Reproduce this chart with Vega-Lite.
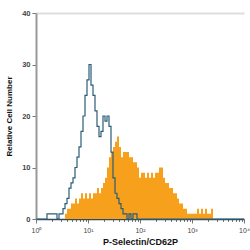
{
  "$schema": "https://vega.github.io/schema/vega-lite/v6.json",
  "width": 208,
  "height": 206,
  "autosize": "none",
  "padding": {"left": 36, "top": 13, "right": 6, "bottom": 31},
  "background": "white",
  "config": {"view": {"stroke": null}, "font": "Liberation Sans"},
  "data": {"values": [
    {"x": 1, "iso": 0, "ps": 0},
    {"x": 1.093, "iso": 0, "ps": 0},
    {"x": 1.194, "iso": 0, "ps": 0},
    {"x": 1.305, "iso": 0, "ps": 0},
    {"x": 1.425, "iso": 0, "ps": 0},
    {"x": 1.557, "iso": 0, "ps": 0},
    {"x": 1.701, "iso": 1, "ps": 0},
    {"x": 1.858, "iso": 1, "ps": 0},
    {"x": 2.031, "iso": 1, "ps": 0},
    {"x": 2.219, "iso": 1, "ps": 0},
    {"x": 2.424, "iso": 1, "ps": 0},
    {"x": 2.649, "iso": 0, "ps": 0},
    {"x": 2.894, "iso": 1, "ps": 0},
    {"x": 3.162, "iso": 1, "ps": 0},
    {"x": 3.455, "iso": 2, "ps": 0},
    {"x": 3.775, "iso": 3, "ps": 1},
    {"x": 4.125, "iso": 4, "ps": 2},
    {"x": 4.507, "iso": 6, "ps": 2},
    {"x": 4.924, "iso": 7, "ps": 3},
    {"x": 5.38, "iso": 8, "ps": 3},
    {"x": 5.878, "iso": 10, "ps": 4},
    {"x": 6.422, "iso": 12, "ps": 3},
    {"x": 7.017, "iso": 14, "ps": 4},
    {"x": 7.667, "iso": 17, "ps": 5},
    {"x": 8.377, "iso": 20, "ps": 4},
    {"x": 9.152, "iso": 24, "ps": 5},
    {"x": 10, "iso": 27, "ps": 4},
    {"x": 10.93, "iso": 30, "ps": 5},
    {"x": 11.94, "iso": 26, "ps": 4},
    {"x": 13.05, "iso": 24, "ps": 5},
    {"x": 14.25, "iso": 21, "ps": 5},
    {"x": 15.57, "iso": 18, "ps": 6},
    {"x": 17.01, "iso": 16, "ps": 5},
    {"x": 18.58, "iso": 17, "ps": 6},
    {"x": 20.31, "iso": 20, "ps": 7},
    {"x": 22.19, "iso": 19, "ps": 8},
    {"x": 24.24, "iso": 20, "ps": 10},
    {"x": 26.49, "iso": 18, "ps": 12},
    {"x": 28.94, "iso": 13, "ps": 13},
    {"x": 31.62, "iso": 8, "ps": 14},
    {"x": 34.55, "iso": 5, "ps": 15},
    {"x": 37.75, "iso": 4, "ps": 16},
    {"x": 41.25, "iso": 3, "ps": 14},
    {"x": 45.07, "iso": 2, "ps": 12},
    {"x": 49.24, "iso": 1, "ps": 13},
    {"x": 53.8, "iso": 1, "ps": 13},
    {"x": 58.78, "iso": 0, "ps": 13},
    {"x": 64.22, "iso": 1, "ps": 12},
    {"x": 70.17, "iso": 0, "ps": 12},
    {"x": 76.67, "iso": 1, "ps": 11},
    {"x": 83.77, "iso": 1, "ps": 11},
    {"x": 91.52, "iso": 0, "ps": 10},
    {"x": 100, "iso": 0, "ps": 8},
    {"x": 109.3, "iso": 0, "ps": 9},
    {"x": 119.4, "iso": 0, "ps": 9},
    {"x": 130.5, "iso": 0, "ps": 8},
    {"x": 142.5, "iso": 0, "ps": 9},
    {"x": 155.7, "iso": 0, "ps": 8},
    {"x": 170.1, "iso": 0, "ps": 9},
    {"x": 185.8, "iso": 0, "ps": 8},
    {"x": 203.1, "iso": 0, "ps": 9},
    {"x": 221.9, "iso": 0, "ps": 9},
    {"x": 242.4, "iso": 0, "ps": 10},
    {"x": 264.9, "iso": 0, "ps": 10},
    {"x": 289.4, "iso": 0, "ps": 8},
    {"x": 316.2, "iso": 0, "ps": 7},
    {"x": 345.5, "iso": 0, "ps": 7},
    {"x": 377.5, "iso": 0, "ps": 6},
    {"x": 412.5, "iso": 0, "ps": 6},
    {"x": 450.7, "iso": 0, "ps": 5},
    {"x": 492.4, "iso": 0, "ps": 5},
    {"x": 538, "iso": 0, "ps": 4},
    {"x": 587.8, "iso": 0, "ps": 3},
    {"x": 642.2, "iso": 0, "ps": 3},
    {"x": 701.7, "iso": 0, "ps": 2},
    {"x": 766.7, "iso": 0, "ps": 2},
    {"x": 837.7, "iso": 0, "ps": 1},
    {"x": 915.2, "iso": 0, "ps": 1},
    {"x": 1000, "iso": 0, "ps": 1},
    {"x": 1093, "iso": 0, "ps": 1},
    {"x": 1194, "iso": 0, "ps": 1},
    {"x": 1305, "iso": 0, "ps": 2},
    {"x": 1425, "iso": 0, "ps": 1},
    {"x": 1557, "iso": 0, "ps": 2},
    {"x": 1701, "iso": 0, "ps": 1},
    {"x": 1858, "iso": 0, "ps": 2},
    {"x": 2031, "iso": 0, "ps": 1},
    {"x": 2219, "iso": 0, "ps": 1},
    {"x": 2424, "iso": 0, "ps": 2},
    {"x": 2649, "iso": 0, "ps": 0},
    {"x": 10000, "iso": 0, "ps": 0}
  ]},
  "layer": [
    {
      "mark": {"type": "area", "interpolate": "step", "color": "#f7a01c"},
      "encoding": {
        "x": {"field": "x", "type": "quantitative",
          "scale": {"type": "log", "domain": [1, 10000]},
          "axis": {
            "values": [1,2,3,4,5,6,7,8,9,10,20,30,40,50,60,70,80,90,100,200,300,400,500,600,700,800,900,1000,2000,3000,4000,5000,6000,7000,8000,9000,10000],
            "labelExpr": "indexof([1,10,100,1000,10000], datum.value) >= 0 ? '10' + ['⁰','¹','²','³','⁴'][round(log(datum.value)/LN10)] : ''",
            "tickSize": {"condition": {"test": "indexof([1,10,100,1000,10000], datum.value) >= 0", "value": 4}, "value": 2.5},
            "tickColor": "#777",
            "domainColor": "#2f4d60",
            "domainWidth": 1.5,
            "labelColor": "#444",
            "labelFontSize": 7,
            "labelPadding": 3,
            "labelFlush": false,
            "grid": false,
            "title": "P-Selectin/CD62P",
            "titleFontSize": 9,
            "titleFontWeight": "bold",
            "titleColor": "#111",
            "titlePadding": 4
          }
        },
        "y": {"field": "ps", "type": "quantitative",
          "scale": {"domain": [0, 40]},
          "axis": {
            "values": [0, 10, 20, 30, 40],
            "grid": false,
            "domainColor": "#999",
            "domainWidth": 2,
            "tickColor": "#777",
            "tickSize": 4,
            "labelColor": "#444",
            "labelFontSize": 7.5,
            "labelFontWeight": "bold",
            "labelPadding": 2,
            "title": "Relative Cell Number",
            "titleFontSize": 8,
            "titleFontWeight": "bold",
            "titleColor": "#111",
            "titlePadding": 8
          }
        }
      }
    },
    {
      "mark": {"type": "line", "interpolate": "step", "color": "#2a5d78", "strokeWidth": 1.2},
      "encoding": {
        "x": {"field": "x", "type": "quantitative",
          "scale": {"type": "log", "domain": [1, 10000]},
          "axis": {"orient": "top", "labels": false, "ticks": false, "title": null, "grid": false, "domainColor": "#dddddd", "domainWidth": 2}
        },
        "y": {"field": "iso", "type": "quantitative"}
      }
    }
  ],
  "resolve": {"axis": {"x": "independent"}}
}
